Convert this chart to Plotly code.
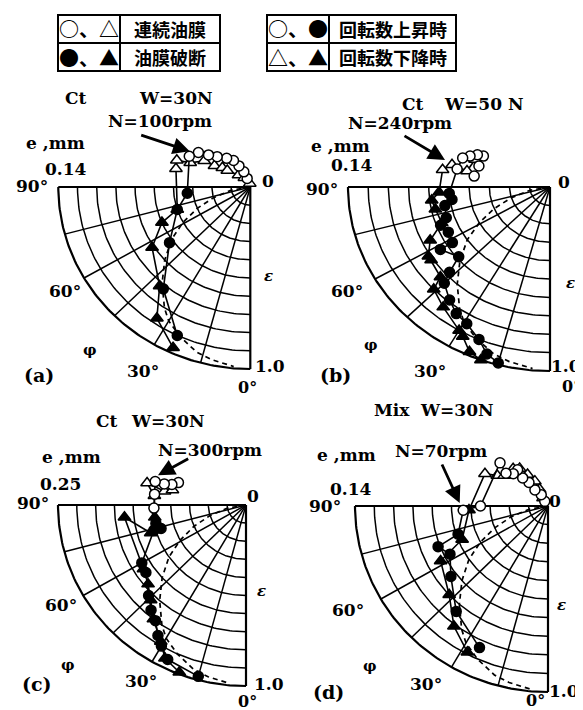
import numpy as np
import plotly.graph_objects as go

W, H = 583, 710

# ---------------- grid ticks ----------------
PHI_GRID = [0, 15, 30, 45, 60, 75, 90]            # attitude angle, deg
EPS_GRID = [0.1, 0.2, 0.3, 0.4, 0.5, 0.6, 0.7, 0.8, 0.9, 1.0]  # eccentricity ratio

# ---------------- theoretical locus (dashed) ----------------
THEORY_EPS = [0.0, 0.1, 0.2, 0.3, 0.4, 0.5, 0.6, 0.7, 0.8, 0.85, 0.9, 0.95, 0.97, 0.99]
THEORY_PHI = [90, 80, 73, 67, 61, 55, 48, 41, 34, 30, 24, 17, 12, 5]

# ---------------- (a) Ct, W=30N ----------------
A_UP_EPS = [0.05, 0.09, 0.13, 0.17, 0.20, 0.24, 0.28, 0.33, 0.36, 0.33, 0.40, 0.52, 0.72, 0.90]
A_UP_PHI = [161, 158, 153, 149, 142, 134, 129, 125, 118, 84, 72, 54, 39, 25]
A_UP_RUPTURE = [0, 0, 0, 0, 0, 0, 0, 0, 0, 1, 1, 1, 1, 1]
A_DN_EPS = [0.97, 0.87, 0.72, 0.61, 0.50, 0.40, 0.40, 0.41, 0.34, 0.28, 0.22, 0.18, 0.15, 0.09, 0.06, 0.02]
A_DN_PHI = [24.5, 34, 41, 57, 67, 72, 104.5, 111, 113, 121, 122, 126, 127, 137, 149, 172]
A_DN_RUPTURE = [1, 1, 1, 1, 1, 1, 0, 0, 0, 0, 0, 0, 0, 0, 0, 0]

# ---------------- (b) Ct, W=50N ----------------
B_UP_EPS = [0.38, 0.37, 0.37, 0.40, 0.43, 0.46, 0.47, 0.50, 0.49, 0.53, 0.54, 0.58, 0.56, 0.57,
            0.64, 0.59, 0.68, 0.74, 0.79, 0.83, 0.85, 0.90, 0.96, 0.99]
B_UP_PHI = [99, 108, 117, 116, 113, 110, 102, 86, 82, 79, 72, 69, 64, 58,
            58, 50, 47, 45, 39, 34, 29, 23, 19, 15]
B_UP_RUPTURE = [0, 0, 0, 0, 0, 0, 0, 1, 1, 1, 1, 1, 1, 1, 1, 1, 1, 1, 1, 1, 1, 1, 1, 1]
B_DN_EPS = [1.0, 0.98, 0.92, 0.90, 0.84, 0.80, 0.73, 0.71, 0.71, 0.66, 0.57, 0.58, 0.59, 0.55,
            0.54, 0.50, 0.42, 0.40]
B_DN_PHI = [20, 24, 28, 30, 39, 46, 48, 56, 58, 64, 70, 78, 83, 87,
            100, 104, 102, 112]
B_DN_RUPTURE = [1, 1, 1, 1, 1, 1, 1, 1, 1, 1, 1, 1, 1, 1, 0, 0, 0, 0]

# ---------------- (c) Ct, W=30N ----------------
C_UP_EPS = [0.38, 0.41, 0.45, 0.50, 0.49, 0.49, 0.49, 0.47, 0.51, 0.64, 0.65, 0.72, 0.77,
            0.80, 0.86, 0.90, 0.95, 0.98]
C_UP_PHI = [109, 106, 105, 105, 97, 88, 78, 74, 74, 60, 55, 46, 41, 37, 33, 30, 26, 15]
C_UP_RUPTURE = [0, 0, 0, 0, 0, 0, 1, 1, 1, 1, 1, 1, 1, 1, 1, 1, 1, 1]
C_DN_EPS = [0.99, 0.95, 0.88, 0.80, 0.73, 0.68, 0.65, 0.65, 0.53, 0.49, 0.49, 0.54, 0.44, 0.40]
C_DN_PHI = [21, 27, 31, 38, 44, 50, 57, 84, 73, 82, 96, 103, 100, 102]
C_DN_RUPTURE = [1, 1, 1, 1, 1, 1, 1, 1, 1, 1, 0, 0, 0, 0]

# ---------------- (d) Mix, W=30N ----------------
D_UP_EPS = [0.03, 0.07, 0.11, 0.16, 0.20, 0.25, 0.25, 0.28, 0.34, 0.35, 0.44,
            0.49, 0.61, 0.57, 0.63, 0.74, 0.84]
D_UP_PHI = [146, 150, 142, 142, 139, 141, 134, 129, 133, 90, 87, 72, 69, 63, 53, 40, 25]
D_UP_RUPTURE = [0, 0, 0, 0, 0, 0, 0, 0, 0, 0, 0, 1, 1, 1, 1, 1, 1]
D_DN_EPS = [0.89, 0.81, 0.70, 0.63, 0.48, 0.41, 0.37, 0.31, 0.28, 0.27, 0.25, 0.20, 0.15, 0.10, 0.05]
D_DN_PHI = [28, 37, 47, 62, 68, 87, 118, 122, 126, 138, 144, 148, 153, 154, 149]
D_DN_RUPTURE = [1, 1, 1, 1, 1, 1, 0, 0, 0, 0, 0, 0, 0, 0, 0]

# ---------------- text ----------------
LEGEND_ROWS_1 = [("○、△", "連続油膜"), ("●、▲", "油膜破断")]
LEGEND_ROWS_2 = [("○、●", "回転数上昇時"), ("△、▲", "回転数下降時")]

PANEL_TEXT = {
    "a": dict(cond=["Ct", "W=30N"], speed="N=100rpm", emax="0.14", tag="(a)"),
    "b": dict(cond=["Ct", "W=50 N"], speed="N=240rpm", emax="0.14", tag="(b)"),
    "c": dict(cond=["Ct", "W=30N"], speed="N=300rpm", emax="0.25", tag="(c)"),
    "d": dict(cond=["Mix", "W=30N"], speed="N=70rpm", emax="0.14", tag="(d)"),
}
DATA = {
    "a": (A_UP_EPS, A_UP_PHI, A_UP_RUPTURE, A_DN_EPS, A_DN_PHI, A_DN_RUPTURE),
    "b": (B_UP_EPS, B_UP_PHI, B_UP_RUPTURE, B_DN_EPS, B_DN_PHI, B_DN_RUPTURE),
    "c": (C_UP_EPS, C_UP_PHI, C_UP_RUPTURE, C_DN_EPS, C_DN_PHI, C_DN_RUPTURE),
    "d": (D_UP_EPS, D_UP_PHI, D_UP_RUPTURE, D_DN_EPS, D_DN_PHI, D_DN_RUPTURE),
}

# ---------------- layout geometry (pixels) ----------------
GEOM = {
    "a": dict(cx=242.3, cy=179, rx=192, ry=182, box=(0, 70, 290, 390)),
    "b": dict(cx=542, cy=179, rx=202, ry=184, box=(290, 70, 583, 390)),
    "c": dict(cx=238, cy=497, rx=188, ry=181, box=(0, 390, 290, 710)),
    "d": dict(cx=540, cy=498, rx=193, ry=186, box=(290, 390, 583, 710)),
}
LABEL_POS = {
    "a": dict(c0=(68, 90), c1=(168, 90), speed=(152, 113), emm=(47, 135), emax=(58, 161),
              p90=(24, 178), zero=(260, 173), eps=(260, 268), p60=(57, 283), phi=(82, 342),
              tag=(31, 367), p30=(135, 363), one=(262, 358), p0=(239, 380),
              arrow_head=(181.7, 143.3), arrow_tail=(131.7, 126.7)),
    "b": dict(c0=(405, 96), c1=(475, 96), speed=(392, 115), emm=(332, 138), emax=(344, 157),
              p90=(314, 181), zero=(556, 174), eps=(562, 275), p60=(339, 283), phi=(363, 337),
              tag=(327, 367), p30=(422, 363), one=(558, 358), p0=(563, 379),
              arrow_head=(437, 152), arrow_tail=(395, 127)),
    "c": dict(c0=(99, 413), c1=(160, 413), speed=(202, 442), emm=(63, 449), emax=(52, 476),
              p90=(25, 495), zero=(245, 488), eps=(253, 583), p60=(53, 597), phi=(60, 657),
              tag=(29, 676), p30=(133, 673), one=(261, 676), p0=(239, 693),
              arrow_head=(150, 467.3), arrow_tail=(181.7, 450)),
    "d": dict(c0=(384, 402), c1=(449, 402), speed=(433, 443), emm=(338, 447),
              emax=(343, 481), p90=(317, 498), zero=(547, 493), eps=(553, 597),
              p60=(340, 602), phi=(362, 658), tag=(320, 684), p30=(418, 676),
              one=(556, 683), p0=(527, 692),
              arrow_head=(451.7, 495), arrow_tail=(433.3, 455)),
}

SERIF = "DejaVu Serif"
CJK = "Noto Sans CJK JP"
FS = 17


def to_xy(eps, phi):
    e = np.asarray(eps, float)
    p = np.radians(np.asarray(phi, float))
    return -e * np.sin(p), -e * np.cos(p)


def px(x):
    return x / W


def py(y):
    return 1 - y / H


fig = go.Figure()
layout_axes = {}
annotations = []
shapes = []


def txt(s, pos, size=FS, family=SERIF):
    annotations.append(dict(text=s, x=px(pos[0]), y=py(pos[1]), xref="paper", yref="paper",
                            showarrow=False, xanchor="center", yanchor="middle",
                            font=dict(family=family, size=size, color="black")))


for i, key in enumerate(["a", "b", "c", "d"]):
    g = GEOM[key]
    sfx = "" if i == 0 else str(i + 1)
    xa, ya = "x" + sfx, "y" + sfx
    x0, y0, x1, y1 = g["box"]
    layout_axes["xaxis" + sfx] = dict(
        domain=[px(x0), px(x1)],
        range=[(x0 - g["cx"]) / g["rx"], (x1 - g["cx"]) / g["rx"]],
        visible=False, fixedrange=True, anchor=ya)
    layout_axes["yaxis" + sfx] = dict(
        domain=[py(y1), py(y0)],
        range=[(g["cy"] - y1) / g["ry"], (g["cy"] - y0) / g["ry"]],
        visible=False, fixedrange=True, anchor=xa)

    # grid arcs (constant eccentricity ratio)
    fine = np.linspace(0, 90, 91)
    for e in EPS_GRID:
        gx, gy = to_xy([e] * len(fine), fine)
        fig.add_trace(go.Scatter(x=gx, y=gy, xaxis=xa, yaxis=ya, mode="lines",
                                 line=dict(color="black", width=2.2 if e == 1.0 else 1.5),
                                 hoverinfo="skip"))
    # radial lines (constant attitude angle)
    for p in PHI_GRID:
        gx, gy = to_xy([0, 1.0], [p, p])
        fig.add_trace(go.Scatter(x=gx, y=gy, xaxis=xa, yaxis=ya, mode="lines",
                                 line=dict(color="black", width=2.2 if p in (0, 90) else 1.5),
                                 hoverinfo="skip"))
    # theoretical locus
    tx, ty = to_xy(THEORY_EPS, THEORY_PHI)
    fig.add_trace(go.Scatter(x=tx, y=ty, xaxis=xa, yaxis=ya, mode="lines",
                             line=dict(color="black", width=1.7, dash="5px,4px"),
                             hoverinfo="skip"))

    ue, up, ur, de, dp, dr = DATA[key]
    for eps, phi, rup, sym, size in ((de, dp, dr, "triangle-up", 11), (ue, up, ur, "circle", 10)):
        mx, my = to_xy(eps, phi)
        fig.add_trace(go.Scatter(
            x=mx, y=my, xaxis=xa, yaxis=ya, mode="lines+markers",
            line=dict(color="black", width=1.6),
            marker=dict(symbol=sym, size=size,
                        color=["black" if r else "white" for r in rup],
                        line=dict(color="black", width=1.5)),
            hoverinfo="skip"))

    t = PANEL_TEXT[key]
    L = LABEL_POS[key]
    txt("<b>%s</b>" % t["cond"][0], L["c0"])
    txt("<b>%s</b>" % t["cond"][1], L["c1"])
    txt("<b>%s</b>" % t["speed"], L["speed"])
    txt("<b>e ,mm</b>", L["emm"])
    txt("<b>%s</b>" % t["emax"], L["emax"])
    txt("<b>90°</b>", L["p90"])
    txt("<b>60°</b>", L["p60"])
    txt("<b>30°</b>", L["p30"])
    txt("<b>0°</b>", L["p0"], size=16)
    txt("<b>0</b>", L["zero"])
    txt("<b>1.0</b>", L["one"])
    txt("<b><i>ε</i></b>", L["eps"], size=15)
    txt("<b>φ</b>", L["phi"], size=15)
    txt("<b>%s</b>" % t["tag"], L["tag"], size=19)

    hx, hy = L["arrow_head"]
    tx_, ty_ = L["arrow_tail"]
    annotations.append(dict(text="", x=px(hx), y=py(hy), xref="paper", yref="paper",
                            showarrow=True, ax=tx_ - hx, ay=ty_ - hy,
                            arrowhead=2, arrowsize=1.2, arrowwidth=2.8, arrowcolor="black"))

# ---------------- legend tables ----------------
TABLES = [
    dict(rows=LEGEND_ROWS_1, x0=50, x1=212, xd=112, y0=7, y1=63),
    dict(rows=LEGEND_ROWS_2, x0=259, x1=448, xd=321, y0=7, y1=63),
]
for tb in TABLES:
    ym = (tb["y0"] + tb["y1"]) / 2
    shapes.append(dict(type="rect", xref="paper", yref="paper",
                       x0=px(tb["x0"]), x1=px(tb["x1"]), y0=py(tb["y1"]), y1=py(tb["y0"]),
                       line=dict(color="black", width=2)))
    shapes.append(dict(type="line", xref="paper", yref="paper",
                       x0=px(tb["x0"]), x1=px(tb["x1"]), y0=py(ym), y1=py(ym),
                       line=dict(color="black", width=2)))
    shapes.append(dict(type="line", xref="paper", yref="paper",
                       x0=px(tb["xd"]), x1=px(tb["xd"]), y0=py(tb["y1"]), y1=py(tb["y0"]),
                       line=dict(color="black", width=2)))
    for r, (sym, label) in enumerate(tb["rows"]):
        yc = tb["y0"] + (r + 0.5) * (tb["y1"] - tb["y0"]) / 2
        txt("<b>%s</b>" % sym, ((tb["x0"] + tb["xd"]) / 2, yc), size=20, family=CJK)
        txt("<b>%s</b>" % label, ((tb["xd"] + tb["x1"]) / 2, yc), size=18, family=CJK)

fig.update_layout(
    width=W, height=H, margin=dict(l=0, r=0, t=0, b=0),
    paper_bgcolor="white", plot_bgcolor="rgba(0,0,0,0)",
    showlegend=False, annotations=annotations, shapes=shapes,
    **layout_axes)

fig.write_html("out.html")
